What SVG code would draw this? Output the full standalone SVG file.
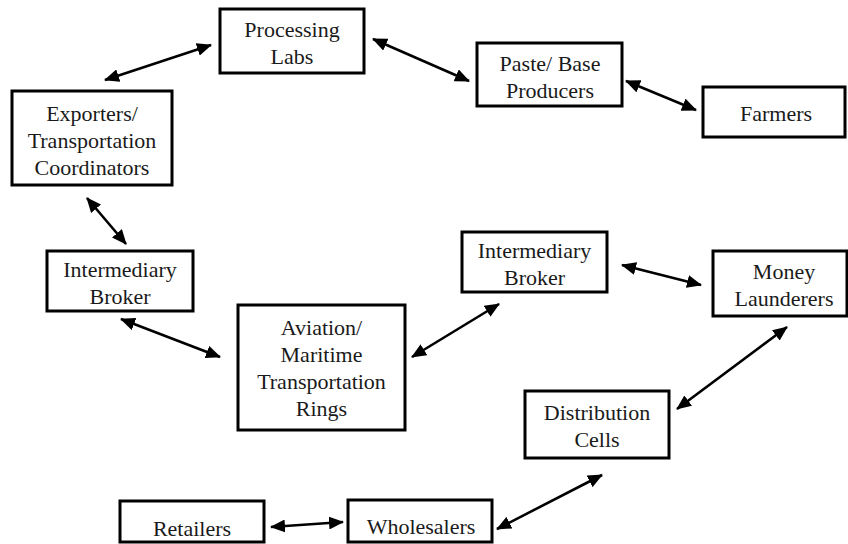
<svg xmlns="http://www.w3.org/2000/svg" width="848" height="544" viewBox="0 0 848 544">
<style>
.box{fill:#fff;stroke:#000;stroke-width:3}
.t{font-family:'Liberation Serif','Times New Roman','DejaVu Serif',Times,serif;font-size:22px;fill:#1a1a1a;text-anchor:middle}
.c{stroke:#000;stroke-width:2.6;fill:none;marker-start:url(#ah);marker-end:url(#ah)}
</style>
<defs>
<marker id="ah" markerUnits="userSpaceOnUse" viewBox="0 0 15 13" markerWidth="15" markerHeight="13" refX="14" refY="6.5" orient="auto-start-reverse">
<path d="M0,0 L15,6.5 L0,13 z" fill="#000"/>
</marker>
</defs>
<rect width="848" height="544" fill="#fff"/>
<g id="connectors">
<line class="c" x1="105" y1="80" x2="211" y2="45"/>
<line class="c" x1="373" y1="39" x2="469" y2="81"/>
<line class="c" x1="626" y1="81" x2="696" y2="110"/>
<line class="c" x1="87" y1="198" x2="126" y2="244"/>
<line class="c" x1="121" y1="319" x2="220" y2="357"/>
<line class="c" x1="412" y1="357" x2="499" y2="304"/>
<line class="c" x1="622" y1="265" x2="701" y2="285"/>
<line class="c" x1="787" y1="327" x2="677" y2="409"/>
<line class="c" x1="602" y1="475" x2="497" y2="529"/>
<line class="c" x1="271" y1="527" x2="343" y2="522"/>
</g>
<g id="processing-labs">
<rect class="box" x="220" y="9" width="144" height="64"/>
<text class="t" x="292" y="37">Processing</text>
<text class="t" x="292" y="64">Labs</text>
</g>
<g id="paste-base-producers">
<rect class="box" x="477" y="43" width="145" height="63"/>
<text class="t" x="550" y="71">Paste/ Base</text>
<text class="t" x="550" y="98">Producers</text>
</g>
<g id="farmers">
<rect class="box" x="703" y="87" width="142" height="50"/>
<text class="t" x="776" y="121">Farmers</text>
</g>
<g id="exporters">
<rect class="box" x="12" y="91" width="160" height="94"/>
<text class="t" x="92" y="121">Exporters/</text>
<text class="t" x="92" y="148">Transportation</text>
<text class="t" x="92" y="175">Coordinators</text>
</g>
<g id="intermediary-broker-left">
<rect class="box" x="47" y="251" width="146" height="60"/>
<text class="t" x="120" y="277">Intermediary</text>
<text class="t" x="120" y="304">Broker</text>
</g>
<g id="aviation-maritime">
<rect class="box" x="238" y="305" width="167" height="125"/>
<text class="t" x="321.5" y="335">Aviation/</text>
<text class="t" x="321.5" y="362">Maritime</text>
<text class="t" x="321.5" y="389">Transportation</text>
<text class="t" x="321.5" y="416">Rings</text>
</g>
<g id="intermediary-broker-right">
<rect class="box" x="462" y="232" width="145" height="60"/>
<text class="t" x="534.5" y="258">Intermediary</text>
<text class="t" x="534.5" y="285">Broker</text>
</g>
<g id="money-launderers">
<rect class="box" x="713" y="251" width="134" height="65"/>
<text class="t" x="784" y="279">Money</text>
<text class="t" x="784" y="306">Launderers</text>
</g>
<g id="distribution-cells">
<rect class="box" x="525" y="391" width="144" height="67"/>
<text class="t" x="597" y="420">Distribution</text>
<text class="t" x="597" y="447">Cells</text>
</g>
<g id="retailers">
<rect class="box" x="120" y="501" width="144" height="41"/>
<text class="t" x="192" y="536">Retailers</text>
</g>
<g id="wholesalers">
<rect class="box" x="348" y="500" width="144" height="42"/>
<text class="t" x="421" y="534">Wholesalers</text>
</g>
</svg>
